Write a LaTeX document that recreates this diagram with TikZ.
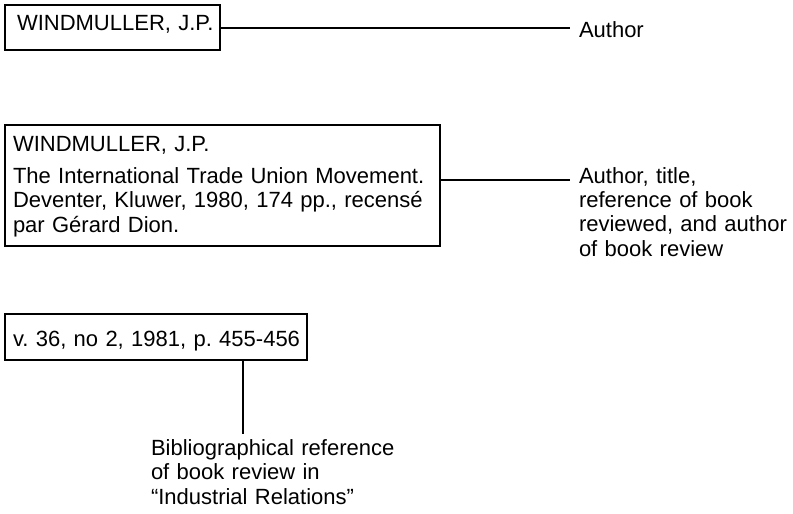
\documentclass[tikz,border=0pt]{standalone}
\usepackage{fontspec}
\setmainfont{Liberation Sans}
\usepackage{tikz}
\usetikzlibrary{positioning, calc}

\begin{document}
\begin{tikzpicture}[x=0.5pt, y=-0.5pt, line width=1pt,
    card/.style={draw, anchor=north west, align=left, inner xsep=4pt, inner ysep=0pt,
      font=\fontsize{11}{12.25}\selectfont\frenchspacing},
    note/.style={anchor=base west, align=left, inner xsep=4pt, inner ysep=2pt,
      font=\fontsize{11}{12.25}\selectfont\frenchspacing}]
                \useasboundingbox (0,0) rectangle (793,514);
                \node[card, text width=99.5pt, text height=13pt, text depth=9.5pt] (entry) at (4,4) {\hspace*{2pt}\mbox{WINDMULLER, J.P.}};
                \node[card, text width=209.5pt, text height=13pt, text depth=47.5pt] (review) at (4,124) {WINDMULLER, J.P.\\[3.75pt]
                  The International Trade Union Movement.\\ Deventer, Kluwer, 1980, 174 pp., recensé\\ par Gérard Dion.};
                \node[card, text width=143pt, text height=16pt, text depth=7pt] (issue) at (4,313) {\mbox{v. 36, no 2, 1981, p. 455-456}};
                \node[note] (author) at (570,37) {Author};
                \node[note, text width=115pt] (reviewinfo) at (570,183) {Author, title,\\ reference of book\\ reviewed, and author\\ of book review};
                \node[note, text width=130pt] (biblio) at (142,455) {Bibliographical reference\\ of book review in\\ “Industrial Relations”};
                \draw (entry) -- (entry -| author.west);
                \draw ([yshift=2.75pt]review.east) -- ([yshift=2.75pt]review.east -| reviewinfo.west);
                \draw ([xshift=43.5pt]issue.south) -- ([xshift=43.5pt]issue.south |- biblio.north);
            \end{tikzpicture}
\end{document}
